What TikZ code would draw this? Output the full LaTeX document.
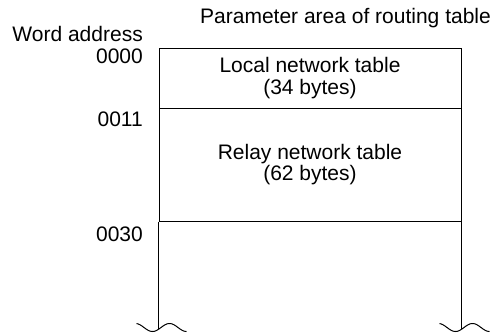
\documentclass[tikz,border=0pt]{standalone}
\usepackage{fontspec}
\setmainfont{Liberation Sans}
\usetikzlibrary{positioning, calc}

\begin{document}
\begin{tikzpicture}[
      x=1pt,y=-1pt,
      tabla/.style ={draw,line width=1pt,minimum width=302pt,inner sep=0pt,
                     font=\fontsize{21}{21.5}\selectfont,align=center},
      dir/.style   ={anchor=base east,inner sep=0pt,
                     font=\fontsize{21}{21.5}\selectfont},
      linea/.style ={line width=1pt}]
      \useasboundingbox (0,0) rectangle (494,332);
      \node[anchor=base,inner sep=0pt,font=\fontsize{21}{21.5}\selectfont]
        (titulo) at (345.5,23) {Parameter area of routing table};
      \node[dir] (palabra) at (143,41) {Word address};
      \node[tabla,minimum height=60pt]    (local) at (310,78.3)
        {Local network table\\(34 bytes)};
      \node[tabla,minimum height=112.7pt] (relay) at (310,164.65)
        {Relay network table\\(62 bytes)};
      \foreach \t/\y in {0000/63.5,0011/126.4,0030/241.7}
        \node[dir] (dir\t) at (143,\y) {\t};
      \coordinate (finI) at (relay.south west |- 0,329.3);
      \coordinate (finD) at (relay.south east |- 0,329.3);
      \draw[linea] (relay.south west)--(finI);
      \draw[linea] (relay.south east)--(finD);
      \foreach \c in {finI,finD}
        \draw[linea,shift={(\c)}] plot[domain=-22:28,samples=60,smooth]
          (\x,{-1.8+4*cos(180*(\x+6)/17)});
    \end{tikzpicture}
\end{document}
